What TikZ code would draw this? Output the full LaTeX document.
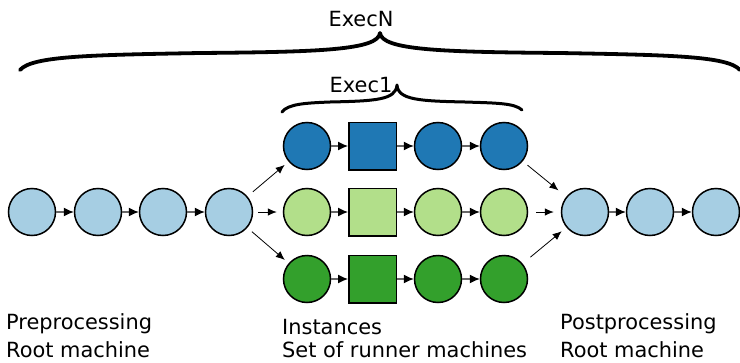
\documentclass[tikz,border=0pt]{standalone}
\usepackage{fontspec}
\setmainfont{DejaVu Sans}
\usetikzlibrary{arrows.meta}
\definecolor{lblue}{HTML}{A6CEE3}
\definecolor{dblue}{HTML}{1F78B4}
\definecolor{lgreen}{HTML}{B2DF8A}
\definecolor{dgreen}{HTML}{33A02C}
\begin{document}
\begin{tikzpicture}[x=1pt,y=-1pt,
  circ/.style={circle,draw=black,line width=1.5pt,minimum size=47pt,inner sep=0pt},
  sq/.style={rectangle,draw=black,line width=1.5pt,minimum size=47.5pt,inner sep=0pt},
  chain/.style={draw=black!60,line width=1.2pt,-{Latex[length=10pt,width=9pt,black]}},
  diag/.style={draw=black,line width=0.8pt,-{Latex[length=9pt,width=7.5pt]}},
  lbl/.style={anchor=base west,inner sep=0pt,font=\fontsize{20.9}{24}\selectfont},
  blbl/.style={anchor=base,inner sep=0pt,font=\fontsize{20.9}{24}\selectfont},
  brace/.style={draw=black,line cap=round,line join=round}]
\useasboundingbox (0,0) rectangle (740,362);
% left chain
\node[circ,fill=lblue] (l1) at (32,212) {};
\node[circ,fill=lblue] (l2) at (98,212) {};
\node[circ,fill=lblue] (l3) at (163,212) {};
\node[circ,fill=lblue] (l4) at (229,212) {};
% top row
\node[circ,fill=dblue] (t1) at (307,146) {};
\node[sq,fill=dblue] (t2) at (372.5,146) {};
\node[circ,fill=dblue] (t3) at (438,146) {};
\node[circ,fill=dblue] (t4) at (504,146) {};
% middle row
\node[circ,fill=lgreen] (m1) at (307,212) {};
\node[sq,fill=lgreen] (m2) at (372.5,212) {};
\node[circ,fill=lgreen] (m3) at (438,212) {};
\node[circ,fill=lgreen] (m4) at (504,212) {};
% bottom row
\node[circ,fill=dgreen] (b1) at (307,279) {};
\node[sq,fill=dgreen] (b2) at (372.5,279) {};
\node[circ,fill=dgreen] (b3) at (438,279) {};
\node[circ,fill=dgreen] (b4) at (504,279) {};
% right chain
\node[circ,fill=lblue] (r1) at (585,212) {};
\node[circ,fill=lblue] (r2) at (650,212) {};
\node[circ,fill=lblue] (r3) at (716,212) {};
% chain arrows
\draw[chain] (l1) -- (l2);
\draw[chain] (l2) -- (l3);
\draw[chain] (l3) -- (l4);
\draw[chain] (t1) -- (t2);
\draw[chain] (t2) -- (t3);
\draw[chain] (t3) -- (t4);
\draw[chain] (m1) -- (m2);
\draw[chain] (m2) -- (m3);
\draw[chain] (m3) -- (m4);
\draw[chain] (b1) -- (b2);
\draw[chain] (b2) -- (b3);
\draw[chain] (b3) -- (b4);
\draw[chain] (r1) -- (r2);
\draw[chain] (r2) -- (r3);
% fan-out / fan-in
\draw[diag,shorten <=7pt,shorten >=5pt] (l4) -- (t1);
\draw[diag,shorten <=5pt,shorten >=6pt] (l4) -- (m1);
\draw[diag,shorten <=6pt,shorten >=5pt] (l4) -- (b1);
\draw[diag,shorten <=6pt,shorten >=10pt] (t4) -- (r1);
\draw[diag,shorten <=8pt,shorten >=7pt] (m4) -- (r1);
\draw[diag,shorten <=10pt,shorten >=6pt] (b4) -- (r1);
% braces
\draw[brace,line width=3.8pt] (20,70) .. controls (32,56) and (90,55) .. (200,53)
  .. controls (320,52) and (378,50) .. (380,33)
  .. controls (382,50) and (440,52) .. (560,53)
  .. controls (670,55) and (728,56) .. (740,70);
\draw[brace,line width=3pt] (282,112) .. controls (288,104) and (305,103) .. (330,102)
  .. controls (375,101) and (396,100) .. (397,85)
  .. controls (398,100) and (420,101) .. (465,102)
  .. controls (495,103) and (515,103) .. (522,110);
\node[blbl] (execn) at (361,26) {ExecN};
\node[blbl] (exec1) at (361,92) {Exec1};
% labels
\node[lbl] (pre1) at (6,329) {Preprocessing};
\node[lbl] (pre2) at (6,357) {Root machine};
\node[lbl] (ins1) at (282,334) {Instances};
\node[lbl] (ins2) at (282,357) {Set of runner machines};
\node[lbl] (post1) at (560,329) {Postprocessing};
\node[lbl] (post2) at (560,357) {Root machine};
\end{tikzpicture}
\end{document}
